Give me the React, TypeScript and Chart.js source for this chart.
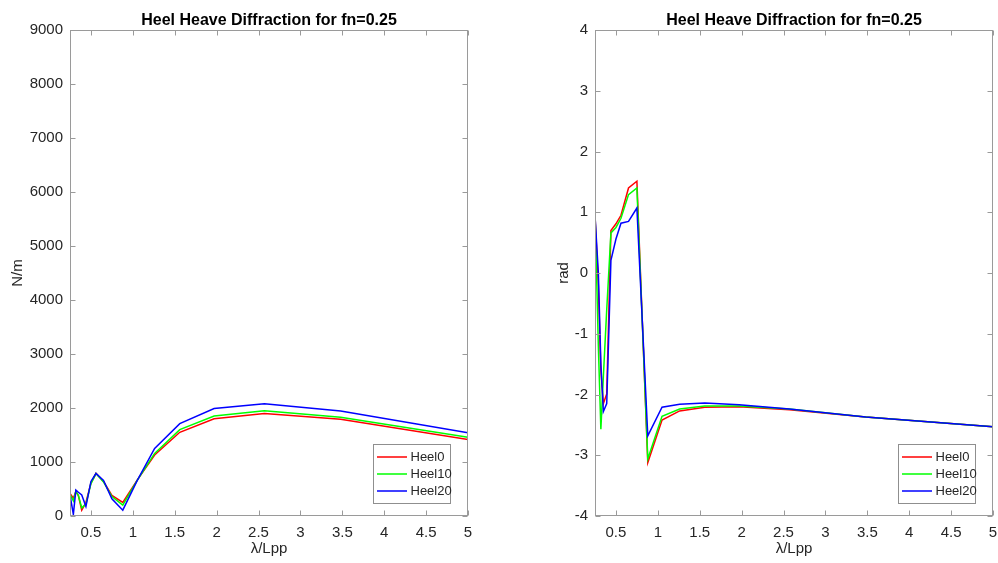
import React, { useEffect, useRef } from 'react';
import { Chart, registerables } from 'chart.js';

Chart.register(...registerables);

// ---- data ----
const lambdaRatio = [0.25, 0.29, 0.32, 0.35, 0.39, 0.44, 0.5, 0.56, 0.65, 0.75, 0.88, 1.05, 1.26, 1.56, 1.97, 2.57, 3.48, 5.0];

const heel0Force = [420, 330, 450, 380, 110, 250, 610, 790, 640, 380, 250, 660, 1130, 1550, 1800, 1900, 1790, 1415];
const heel10Force = [400, 280, 460, 380, 150, 220, 600, 785, 630, 360, 200, 655, 1160, 1600, 1850, 1950, 1830, 1458];
const heel20Force = [390, 30, 480, 440, 390, 175, 640, 787, 660, 320, 108, 650, 1250, 1710, 1990, 2080, 1945, 1540];

const heel0Phase = [0.95, -0.2, -1.6, -2.15, -1.99, 0.7, 0.81, 0.95, 1.4, 1.51, -3.12, -2.42, -2.27, -2.21, -2.2, -2.25, -2.37, -2.53];
const heel10Phase = [1.0, -1.2, -2.57, -1.7, -0.6, 0.66, 0.75, 0.9, 1.29, 1.4, -3.06, -2.36, -2.24, -2.19, -2.19, -2.24, -2.37, -2.53];
const heel20Phase = [0.95, 0.0, -1.5, -2.28, -2.15, 0.21, 0.56, 0.82, 0.85, 1.07, -2.68, -2.21, -2.16, -2.14, -2.17, -2.24, -2.37, -2.53];

const seriesNames = ['Heel0', 'Heel10', 'Heel20'];
const seriesColors = ['#ff0000', '#00ff00', '#0000ff'];

const xTicks = [0.5, 1, 1.5, 2, 2.5, 3, 3.5, 4, 4.5, 5];
const forceTicks = [0, 1000, 2000, 3000, 4000, 5000, 6000, 7000, 8000, 9000];
const phaseTicks = [-4, -3, -2, -1, 0, 1, 2, 3, 4];

const chartTitle = 'Heel Heave Diffraction for fn=0.25';
const xLabel = 'λ/Lpp';

const FONT = '"Liberation Sans", Arial, Helvetica, sans-serif';
const AXIS_COLOR = '#9a9a9a';
const TEXT_COLOR = '#262626';

const matlabPlugin = {
  id: 'matlabAxes',
  afterDraw(chart: any) {
    const ctx = chart.ctx;
    const area = chart.chartArea;
    const opts = chart.options.plugins.matlabAxes || {};
    const L = Math.round(area.left) + 0.5;
    const R = Math.round(area.right) - 0.5;
    const T = Math.round(area.top) + 0.5;
    const B = Math.round(area.bottom) - 0.5;
    ctx.save();
    // box
    ctx.strokeStyle = AXIS_COLOR;
    ctx.lineWidth = 1;
    ctx.strokeRect(L, T, R - L, B - T);
    // ticks inside
    const tl = 5;
    ctx.beginPath();
    const xs = chart.scales.x;
    xs.ticks.forEach((t: any) => {
      const p = Math.round(xs.getPixelForValue(t.value)) + 0.5;
      ctx.moveTo(p, B);
      ctx.lineTo(p, B - tl);
      ctx.moveTo(p, T);
      ctx.lineTo(p, T + tl);
    });
    const ys = chart.scales.y;
    ys.ticks.forEach((t: any) => {
      const p = Math.round(ys.getPixelForValue(t.value)) + 0.5;
      ctx.moveTo(L, p);
      ctx.lineTo(L + tl, p);
      ctx.moveTo(R, p);
      ctx.lineTo(R - tl, p);
    });
    ctx.stroke();
    // title
    ctx.fillStyle = '#000';
    ctx.font = 'bold 16px ' + FONT;
    ctx.textAlign = 'center';
    ctx.textBaseline = 'alphabetic';
    ctx.fillText(opts.title || '', (area.left + area.right) / 2, 25);
    // legend
    const lw = 77;
    const lh = 59;
    const lx = Math.round(area.right) - 18 - lw + 0.5;
    const ly = Math.round(area.bottom) - 13 - lh + 0.5;
    ctx.fillStyle = '#fff';
    ctx.fillRect(lx, ly, lw, lh);
    ctx.strokeStyle = '#8f8f8f';
    ctx.strokeRect(lx, ly, lw, lh);
    ctx.font = '13px ' + FONT;
    ctx.textAlign = 'left';
    ctx.textBaseline = 'middle';
    chart.data.datasets.forEach((ds: any, i: number) => {
      const y = ly + 12.5 + i * 17;
      ctx.strokeStyle = ds.borderColor;
      ctx.lineWidth = 1.5;
      ctx.beginPath();
      ctx.moveTo(lx + 3.5, y);
      ctx.lineTo(lx + 33.5, y);
      ctx.stroke();
      ctx.fillStyle = TEXT_COLOR;
      ctx.fillText(ds.label, lx + 37, y + 0.5);
    });
    ctx.restore();
  },
};

function makeConfig(
  series: number[][],
  yTicks: number[],
  yMin: number,
  yMax: number,
  yTitle: string,
  yAxisWidth: number,
  yTitlePad: number,
  rightPad: number
): any {
  return {
    type: 'line',
    data: {
      datasets: series.map((vals, i) => ({
        label: seriesNames[i],
        data: lambdaRatio.map((x, j) => ({ x, y: vals[j] })),
        borderColor: seriesColors[i],
        backgroundColor: seriesColors[i],
        borderWidth: 1.5,
        pointRadius: 0,
        tension: 0,
        fill: false,
        order: series.length - i,
      })),
    },
    options: {
      responsive: false,
      animation: false,
      devicePixelRatio: 1,
      layout: { padding: { top: 30, right: rightPad, left: 0, bottom: 0 } },
      plugins: {
        legend: { display: false },
        tooltip: { enabled: false },
        title: { display: false },
        matlabAxes: { title: chartTitle },
      },
      scales: {
        x: {
          type: 'linear',
          min: 0.25,
          max: 5,
          grid: { display: false, drawTicks: false },
          border: { display: false },
          afterBuildTicks: (s: any) => {
            s.ticks = xTicks.map((v) => ({ value: v }));
          },
          afterFit: (s: any) => {
            s.height = 47;
            s.paddingLeft = 0;
            s.paddingRight = 0;
          },
          ticks: {
            padding: 8,
            maxRotation: 0,
            autoSkip: false,
            color: TEXT_COLOR,
            font: { family: FONT, size: 15 },
            callback: (v: any) => String(v),
          },
          title: {
            display: true,
            text: xLabel,
            color: TEXT_COLOR,
            font: { family: FONT, size: 15 },
            padding: { top: 0, bottom: 5 },
          },
        },
        y: {
          type: 'linear',
          min: yMin,
          max: yMax,
          grid: { display: false, drawTicks: false },
          border: { display: false },
          afterBuildTicks: (s: any) => {
            s.ticks = yTicks.map((v) => ({ value: v }));
          },
          afterFit: (s: any) => {
            s.width = yAxisWidth;
            s.paddingTop = 0;
            s.paddingBottom = 0;
          },
          ticks: {
            padding: 7,
            autoSkip: false,
            color: TEXT_COLOR,
            font: { family: FONT, size: 15 },
            callback: (v: any) => String(v),
          },
          title: {
            display: true,
            text: yTitle,
            color: TEXT_COLOR,
            font: { family: FONT, size: 15 },
            padding: { top: yTitlePad, bottom: 0 },
          },
        },
      },
    },
    plugins: [matlabPlugin],
  };
}

export default function App() {
  const leftRef = useRef<HTMLCanvasElement>(null);
  const rightRef = useRef<HTMLCanvasElement>(null);

  useEffect(() => {
    const c1 = new Chart(
      leftRef.current as HTMLCanvasElement,
      makeConfig([heel0Force, heel10Force, heel20Force], forceTicks, 0, 9000, 'N/m', 70, 9, 31)
    );
    const c2 = new Chart(
      rightRef.current as HTMLCanvasElement,
      makeConfig([heel0Phase, heel10Phase, heel20Phase], phaseTicks, -4, 4, 'rad', 96, 56, 5)
    );
    return () => {
      c1.destroy();
      c2.destroy();
    };
  }, []);

  return (
    <div style={{ position: 'absolute', left: 0, top: 0, width: 998, height: 563, background: '#fff' }}>
      <canvas ref={leftRef} width={499} height={563} style={{ position: 'absolute', left: 0, top: 0, width: 499, height: 563 }} />
      <canvas ref={rightRef} width={499} height={563} style={{ position: 'absolute', left: 499, top: 0, width: 499, height: 563 }} />
    </div>
  );
}
